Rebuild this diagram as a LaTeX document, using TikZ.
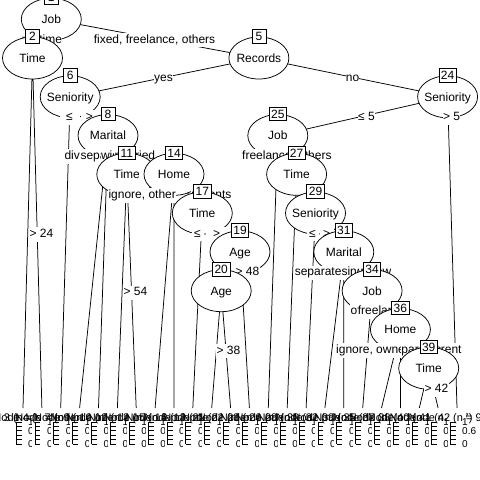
\documentclass[tikz,border=0pt]{standalone}
\usepackage{fontspec}
\setmainfont{Liberation Sans}
\usetikzlibrary{shapes.geometric}
\newcommand\fsz[1]{\fontsize{#1bp}{#1bp}\selectfont}
% inner split node: name, x, y, variable, id
\newcommand\splitnode[5]{%
  \node[inner] (#1) at (#2,#3) {};
  \node[vname] (#1v) at (#2,#3+4.3) {#4};
  \node[idbox] (#1i) at (#2,#3-21.5) {#5};
}
% terminal panel: id, x, n
\newcommand\leafpanel[3]{%
  \pgfmathsetmacro\pxa{#2-9.43}%
  \pgfmathsetmacro\pxb{#2+9.43}%
  \pgfmathsetmacro\pxc{#2-7}%
  \fill[white] (\pxa,408.6) rectangle (\pxb,470);
  \node[ptitle] (p#1t) at (\pxc,421.5) {Node #1 (n = #3)};
  \draw[axis] (\pxc,422) -- (\pxc,444);
  \foreach \k in {0,...,5} {\draw[axis] (\pxc,{444-4.4*\k}) -- ++(5.5,0);}
  \node[axlab] (p#1a) at (\pxc+12,444) {0};
  \node[axlab] (p#1b) at (\pxc+12,430.8) {0.6};
  \node[axlab] (p#1c) at (\pxc+12,422) {1};
}
\begin{document}
\begin{tikzpicture}[x=1bp, y=-1bp,
  link/.style={line width=0.75bp},
  inner/.style={ellipse, draw, fill=white, line width=0.75bp,
    minimum width=60bp, minimum height=42bp, inner sep=0pt},
  vname/.style={anchor=base, inner sep=0pt, font=\fsz{12}},
  idbox/.style={draw, fill=white, line width=0.75bp, font=\fsz{12},
    minimum width=14bp, minimum height=13.5bp, inner xsep=2bp, inner ysep=0pt,
    text height=8.6bp, text depth=0pt},
  elab/.style={fill=white, anchor=base, font=\fsz{12}, inner xsep=0.3bp,
    inner ysep=1.5bp, text height=8.8bp, text depth=2.6bp},
  ptitle/.style={font=\fsz{11}, inner sep=0pt, anchor=base},
  axlab/.style={font=\fsz{10}, inner sep=0pt, anchor=west},
  axis/.style={line width=0.8bp},
]
\useasboundingbox (0,0) rectangle (480,480);
\fill[white] (0,0) rectangle (480,480);

% centres of the split nodes
\coordinate (c1) at (51.3,19.2);
\coordinate (c2) at (32.5,58);
\coordinate (c5) at (258.9,58);
\coordinate (c6) at (70.2,96.8);
\coordinate (c24) at (447.6,96.8);
\coordinate (c8) at (108,135.6);
\coordinate (c25) at (277.8,135.6);
\coordinate (c11) at (126.8,174.3);
\coordinate (c14) at (174,174.3);
\coordinate (c27) at (296.6,174.3);
\coordinate (c17) at (202.3,213.1);
\coordinate (c29) at (315.5,213.1);
\coordinate (c19) at (240,251.9);
\coordinate (c31) at (343.8,251.9);
\coordinate (c20) at (221.2,290.7);
\coordinate (c34) at (372.1,290.7);
\coordinate (c36) at (400.4,329.5);
\coordinate (c39) at (428.7,368.2);
% tops of the terminal panels
\coordinate (l3) at (23.0,408);
\coordinate (l4) at (41.9,408);
\coordinate (l7) at (60.7,408);
\coordinate (l9) at (79.6,408);
\coordinate (l10) at (98.5,408);
\coordinate (l12) at (117.4,408);
\coordinate (l13) at (136.2,408);
\coordinate (l15) at (155.1,408);
\coordinate (l16) at (174.0,408);
\coordinate (l18) at (192.8,408);
\coordinate (l21) at (211.7,408);
\coordinate (l22) at (230.6,408);
\coordinate (l23) at (249.4,408);
\coordinate (l26) at (268.3,408);
\coordinate (l28) at (287.2,408);
\coordinate (l30) at (306.1,408);
\coordinate (l32) at (324.9,408);
\coordinate (l33) at (343.8,408);
\coordinate (l35) at (362.7,408);
\coordinate (l37) at (381.5,408);
\coordinate (l38) at (400.4,408);
\coordinate (l40) at (419.3,408);
\coordinate (l41) at (438.1,408);
\coordinate (l42) at (457.0,408);

% node 1
\draw[link] (c1) -- (c2) (c1) -- (c5);
\splitnode{n1}{51.3}{19.2}{Job}{1}
\node[elab] (e2) at (42,43.1) {partime};
\node[elab] (e5) at (154.5,43.1) {fixed, freelance, others};
% node 2
\draw[link] (c2) -- (l3) (c2) -- (l4);
\splitnode{n2}{32.5}{58}{Time}{2}
\node[elab] (e4) at (41.5,237.5) {> 24};
% node 5
\draw[link] (c5) -- (c6) (c5) -- (c24);
\splitnode{n5}{258.9}{58}{Records}{5}
\node[elab] (e6) at (163.5,81.9) {yes};
\node[elab] (e24) at (352.5,81.9) {no};
% node 6
\draw[link] (c6) -- (l7) (c6) -- (c8);
\splitnode{n6}{70.2}{96.8}{Seniority}{6}
\node[elab, minimum width=20bp] (e7) at (69.5,120.6) {≤};
\node[elab, minimum width=18bp] (e8) at (89.5,120.6) {>};
% node 8
\draw[link] (c8) -- (l9) (c8) -- (l10) (c8) -- (c11) (c8) -- (c14);
\splitnode{n8}{108}{135.6}{Marital}{8}
\node[elab, anchor=base west] (e9) at (64,159.8) {divorced};
\node[elab, anchor=base west] (e10) at (80,159.8) {separated};
\node[elab, anchor=base west] (e11) at (100.5,159.8) {widow};
\node[elab, anchor=base west] (e14) at (114,159.8) {married};
% node 11
\draw[link] (c11) -- (l12) (c11) -- (l13);
\splitnode{n11}{126.8}{174.3}{Time}{11}
\node[elab] (e13) at (135.5,295.8) {> 54};
% node 14
\draw[link] (c14) -- (l15) (c14) -- (l16) (c14) -- (c17);
\splitnode{n14}{174}{174.3}{Home}{14}
\node[elab, anchor=base west] (e15) at (108,198.5) {ignore, other};
\node[elab, anchor=base east] (e17) at (232,198.5) {parents};
% node 17
\draw[link] (c17) -- (l18) (c17) -- (c19);
\splitnode{n17}{202.3}{213.1}{Time}{17}
\node[elab, minimum width=12bp] (e18) at (197.5,237) {≤};
\node[elab, minimum width=22bp] (e19) at (216.7,237) {>};
% node 19
\draw[link] (c19) -- (c20) (c19) -- (l23);
\splitnode{n19}{240}{251.9}{Age}{19}
\node[elab] (e23) at (247.4,275.8) {> 48};
% node 20
\draw[link] (c20) -- (l21) (c20) -- (l22);
\splitnode{n20}{221.2}{290.7}{Age}{20}
\node[elab] (e22) at (228.5,354) {> 38};
% node 24
\draw[link] (c24) -- (c25) (c24) -- (l42);
\splitnode{n24}{447.6}{96.8}{Seniority}{24}
\node[elab] (e25) at (366.5,120.6) {≤ 5};
\node[elab] (e42) at (451.5,120.6) {> 5};
% node 25
\draw[link] (c25) -- (l26) (c25) -- (c27);
\splitnode{n25}{277.8}{135.6}{Job}{25}
\node[elab, anchor=base west] (e26) at (241.7,159.8) {freelance};
\node[elab, anchor=base east] (e27) at (332,159.8) {others};
% node 27
\draw[link] (c27) -- (l28) (c27) -- (c29);
\splitnode{n27}{296.6}{174.3}{Time}{27}
% node 29
\draw[link] (c29) -- (l30) (c29) -- (c31);
\splitnode{n29}{315.5}{213.1}{Seniority}{29}
\node[elab, minimum width=12bp] (e30) at (312.5,237) {≤};
\node[elab, minimum width=14bp] (e31) at (326.7,237) {>};
% node 31
\draw[link] (c31) -- (l32) (c31) -- (l33) (c31) -- (c34);
\splitnode{n31}{343.8}{251.9}{Marital}{31}
\node[elab, anchor=base west] (e32) at (294.3,275.8) {separated};
\node[elab, anchor=base west] (e33) at (341,275.8) {single};
\node[elab, anchor=base east] (e34) at (391.7,275.8) {widow};
% node 34
\draw[link] (c34) -- (l35) (c34) -- (c36);
\splitnode{n34}{372.1}{290.7}{Job}{34}
\node[elab] (e35) at (367.4,314.6) {others};
\node[elab, anchor=base west] (e36) at (357.4,314.6) {freelance};
% node 36
\draw[link] (c36) -- (l37) (c36) -- (l38) (c36) -- (c39);
\splitnode{n36}{400.4}{329.5}{Home}{36}
\node[elab, anchor=base west] (e37) at (335.7,353.4) {ignore, owner};
\node[elab, anchor=base west] (e38) at (400.9,353.4) {parents};
\node[elab, anchor=base east] (e39) at (462,353.4) {rent};
% node 39
\draw[link] (c39) -- (l40) (c39) -- (l41);
\splitnode{n39}{428.7}{368.2}{Time}{39}
\node[elab] (e41) at (436.5,392.5) {> 42};

% terminal panels, left to right
\leafpanel{3}{23.0}{187}
\leafpanel{4}{41.9}{264}
\leafpanel{7}{60.7}{86}
\leafpanel{9}{79.6}{52}
\leafpanel{10}{98.5}{33}
\leafpanel{12}{117.4}{121}
\leafpanel{13}{136.2}{45}
\leafpanel{15}{155.1}{109}
\leafpanel{16}{174.0}{78}
\leafpanel{18}{192.8}{95}
\leafpanel{21}{211.7}{62}
\leafpanel{22}{230.6}{87}
\leafpanel{23}{249.4}{143}
\leafpanel{26}{268.3}{71}
\leafpanel{28}{287.2}{164}
\leafpanel{30}{306.1}{58}
\leafpanel{32}{324.9}{40}
\leafpanel{33}{343.8}{112}
\leafpanel{35}{362.7}{66}
\leafpanel{37}{381.5}{84}
\leafpanel{38}{400.4}{103}
\leafpanel{40}{419.3}{139}
\leafpanel{41}{438.1}{57}
\leafpanel{42}{457.0}{91}
\end{tikzpicture}
\end{document}
